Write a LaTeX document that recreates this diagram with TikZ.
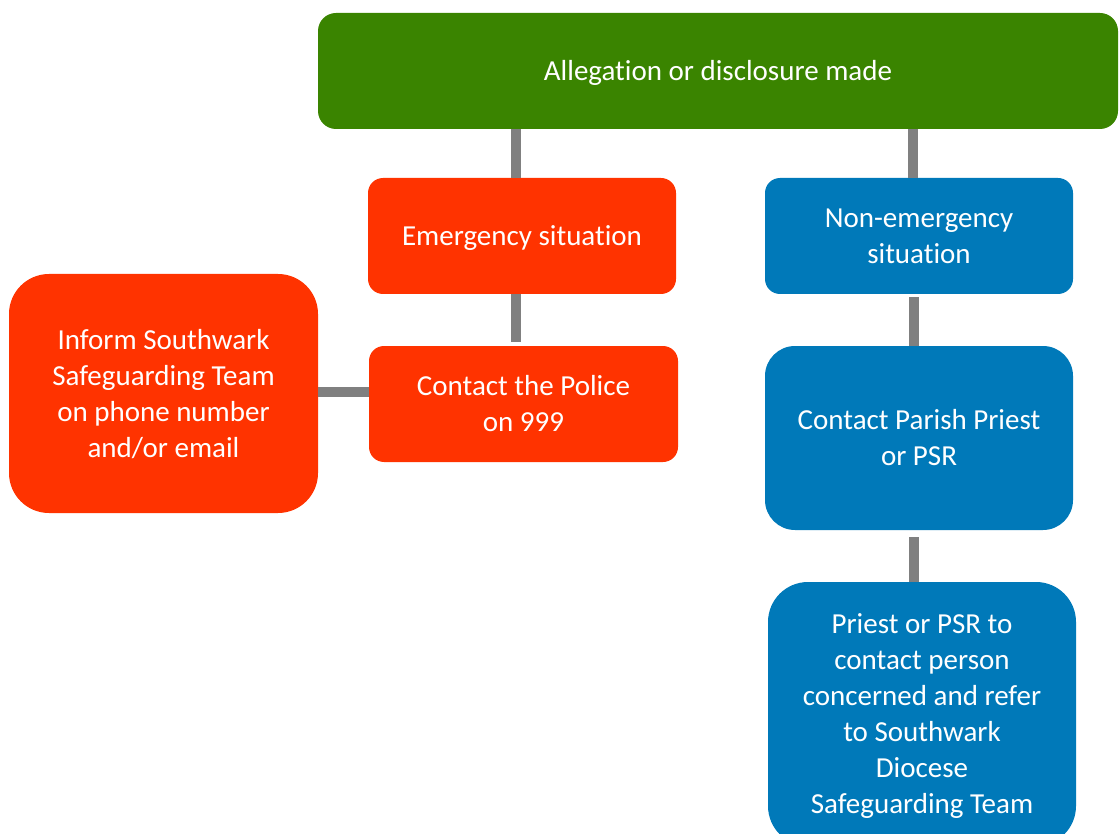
\documentclass[tikz,border=0pt]{standalone}
\usepackage{fontspec}
\setmainfont{Carlito}[Ligatures=NoCommon]
\definecolor{cgreen}{HTML}{3A8400}
\definecolor{cred}{HTML}{FF3300}
\definecolor{cblue}{HTML}{0079B9}
\definecolor{cline}{HTML}{808080}
\newcommand{\boxtext}[1]{\raisebox{-2.5pt}[\height][\depth]{\begin{tabular}{@{}c@{}}#1\end{tabular}}}
\begin{document}
\begin{tikzpicture}[x=1pt,y=-1pt,
  box/.style={draw=none,text=white,align=center,inner sep=0pt,
    font=\fontsize{29}{36}\selectfont},
  conn/.style={draw=cline,line width=10pt}]
\useasboundingbox (0,0) rectangle (1119,834);
\clip (0,0) rectangle (1119,834);
\node[box,fill=cgreen,rounded corners=18pt,minimum width=800pt,minimum height=116pt] (top) at (718,71) {\boxtext{Allegation or disclosure made}};
\node[box,fill=cred,rounded corners=15pt,minimum width=308pt,minimum height=116pt] (emer) at (522,236) {\boxtext{Emergency situation}};
\node[box,fill=cred,rounded corners=15pt,minimum width=309pt,minimum height=116pt] (police) at (523.5,404) {\boxtext{Contact the Police\\on 999}};
\node[box,fill=cred,rounded corners=40pt,minimum width=309pt,minimum height=239pt] (inform) at (163.5,393.5) {\boxtext{Inform Southwark\\Safeguarding Team\\on phone number\\and/or email}};
\node[box,fill=cblue,rounded corners=15pt,minimum width=308pt,minimum height=116pt] (nonem) at (919,236) {\boxtext{Non-emergency\\situation}};
\node[box,fill=cblue,rounded corners=30pt,minimum width=308pt,minimum height=184pt] (parish) at (919,438) {\boxtext{Contact Parish Priest\\or PSR}};
\node[box,fill=cblue,rounded corners=40pt,minimum width=308pt,minimum height=264pt] (priest) at (922,714) {\boxtext{Priest or PSR to\\contact person\\concerned and refer\\to Southwark\\Diocese\\Safeguarding Team}};
\draw[conn] (top.south -| 516,0) -- (emer.north -| 516,0);
\draw[conn] (top.south -| 913,0) -- (nonem.north -| 913,0);
\draw[conn] (emer.south -| 516,0) -- ([yshift=4pt]police.north -| 516,0);
\draw[conn] (inform.east |- 0,392) -- (police.west |- 0,392);
\draw[conn] ([yshift=-3pt]nonem.south -| 914,0) -- (parish.north -| 914,0);
\draw[conn] ([yshift=-7pt]parish.south -| 914,0) -- (priest.north -| 914,0);
\end{tikzpicture}
\end{document}
